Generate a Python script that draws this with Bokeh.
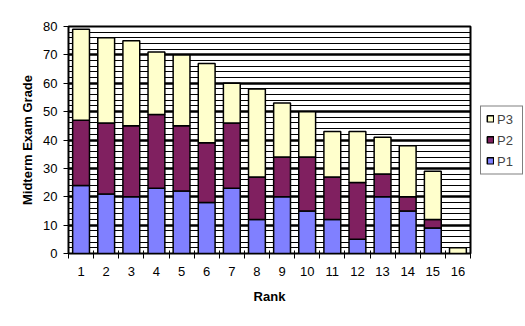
from bokeh.plotting import figure
from bokeh.models import FixedTicker, Legend, LegendItem, Range1d, ColumnDataSource
from bokeh.embed import file_html
from bokeh.resources import INLINE

ranks = list(range(1, 17))
p1 = [24, 21, 20, 23, 22, 18, 23, 12, 20, 15, 12, 5, 20, 15, 9, 0]
p2 = [23, 25, 25, 26, 23, 21, 23, 15, 14, 19, 15, 20, 8, 5, 3, 0]
p3 = [32, 30, 30, 22, 25, 28, 14, 31, 19, 16, 16, 18, 13, 18, 17, 2]
series = ["P1", "P2", "P3"]
colors = ["#8080FF", "#802060", "#FFFFCC"]

src = ColumnDataSource(dict(rank=ranks, P1=p1, P2=p2, P3=p3))

p = figure(frame_width=402, frame_height=227, output_backend="svg", toolbar_location=None,
           x_range=Range1d(0.5, 16.5), y_range=Range1d(0, 80),
           min_border_left=68, min_border_right=0, min_border_top=26, min_border_bottom=73)
p.outline_line_color = "black"
p.outline_line_width = 2

renderers = p.vbar_stack(series, x="rank", width=0.67, source=src, color=colors,
                         line_color="black", line_width=1.5)

font = "Liberation Sans"
p.xaxis.ticker = FixedTicker(ticks=ranks, minor_ticks=[r - 0.5 for r in ranks] + [16.5])
p.xaxis.major_tick_line_color = None
p.xaxis.minor_tick_line_color = "black"
p.xaxis.minor_tick_out = 5
p.xaxis.minor_tick_in = 3
p.xaxis.axis_label = "Rank"
p.yaxis.ticker = FixedTicker(ticks=list(range(0, 81, 10)), minor_ticks=list(range(0, 81, 2)))
p.yaxis.minor_tick_line_color = None
p.yaxis.major_tick_out = 5
p.yaxis.major_tick_in = 0
p.yaxis.axis_label = "Midterm Exam Grade"
for ax in (p.xaxis, p.yaxis):
    ax.axis_line_color = "black"
    ax.axis_line_width = 1
    ax.major_label_text_font = font
    ax.major_label_text_font_size = "13px"
    ax.major_label_text_color = "black"
    ax.axis_label_text_font = font
    ax.axis_label_text_font_size = "13px"
    ax.axis_label_text_font_style = "bold"
    ax.axis_label_text_color = "black"
p.xaxis.major_label_standoff = 7
p.xaxis.axis_label_standoff = 10
p.yaxis.major_label_standoff = 6
p.yaxis.axis_label_standoff = 5

p.xgrid.grid_line_color = None
p.ygrid.grid_line_color = "black"
p.ygrid.grid_line_width = 2.5
p.ygrid.minor_grid_line_color = "black"
p.ygrid.minor_grid_line_width = 1

items = [LegendItem(label=s, renderers=[r]) for s, r in zip(series, renderers)][::-1]
legend = Legend(items=items, location="center_left", border_line_color="black",
                border_line_width=1, label_text_font=font, label_text_font_size="13px",
                glyph_width=8, glyph_height=8, label_height=14, spacing=6,
                padding=5, margin=10, label_standoff=3, background_fill_color="white")
p.add_layout(legend, "right")

open("out.html", "w").write(file_html(p, INLINE))
